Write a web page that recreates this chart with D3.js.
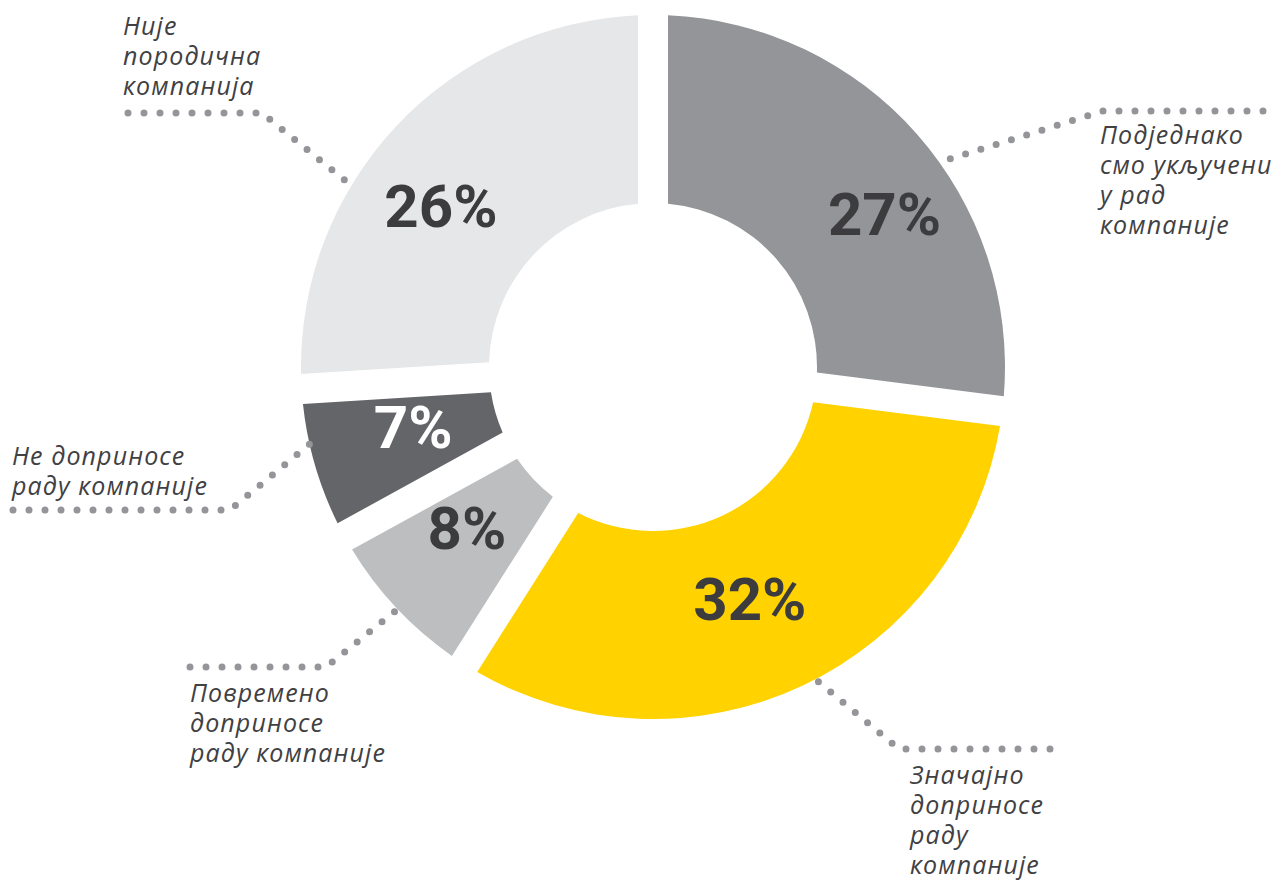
<!DOCTYPE html>
<html>
<head>
<meta charset="utf-8">
<script src="https://cdn.jsdelivr.net/npm/d3@7"></script>
<style>
  body { margin: 0; background: #fff; }
  svg { display: block; }
</style>
</head>
<body>
<div id="chart"></div>
<script>
var w = 1279, h = 882;

// slices, clockwise from 12 o'clock
var categories = [
    ["Подједнако", "смо укључени", "у рад", "компаније"],
    ["Значајно", "доприносе", "раду", "компаније"],
    ["Повремено", "доприносе", "раду компаније"],
    ["Не доприносе", "раду компаније"],
    ["Није", "породична", "компанија"]
];
var values = [27, 32, 8, 7, 26];
var colors = ["#939598", "#ffd200", "#bcbec0", "#646568", "#e6e7e8"];
var pctColors = ["#3c3c3e", "#3c3c3e", "#3c3c3e", "#ffffff", "#3c3c3e"];

// annotation layout
var pctNudge = [[38, 18], [-13, -1], [2, -16], [8, -12], [-24, 16]];
var leaderFrac = [0.56, 0.48, 0.49, 0.64, 0.37];
var elbows = [[1103, 111], [899, 749], [326, 667], [230, 510], [262, 113]];
var lineEnds = [1263, 1050, 190, 13, 128];
var textAt = [[1100, 144], [910, 784], [190, 702], [12, 465], [123, 35]];
var lineGap = 30;

var cx = 653, cy = 367, rOut = 352, rIn = 164, gap = 30;

var svg = d3.select("#chart").append("svg").attr("width", w).attr("height", h);

var pie = d3.pie().sort(null).value(function (d) { return d; });
var arcs = pie(values);

var arc = d3.arc()
    .innerRadius(rIn)
    .outerRadius(rOut)
    .padRadius(rOut)
    .padAngle(2 * Math.asin(gap / 2 / rOut));

var g = svg.append("g").attr("transform", "translate(" + cx + "," + cy + ")");

g.selectAll("path.slice").data(arcs).enter().append("path")
    .attr("class", "slice")
    .attr("fill", function (d, i) { return colors[i]; })
    .attr("d", arc);

// leader lines (dotted)
var line = d3.line();
svg.selectAll("path.leader").data(arcs).enter().append("path")
    .attr("class", "leader")
    .attr("fill", "none")
    .attr("stroke", "#939598")
    .attr("stroke-width", 7)
    .attr("stroke-linecap", "round")
    .attr("stroke-dasharray", "0 16")
    .attr("d", function (d, i) {
        var a = d.startAngle + leaderFrac[i] * (d.endAngle - d.startAngle);
        var sx = cx + rOut * Math.sin(a), sy = cy - rOut * Math.cos(a);
        var e = elbows[i];
        return line([[lineEnds[i], e[1]], e, [sx, sy]]);
    });

// percentages
g.selectAll("text.pct").data(arcs).enter().append("text")
    .attr("class", "pct")
    .attr("text-anchor", "middle")
    .attr("font-family", "Roboto, sans-serif")
    .attr("font-weight", "bold")
    .attr("font-size", "60px")
    .attr("fill", function (d, i) { return pctColors[i]; })
    .attr("x", function (d, i) { return arc.centroid(d)[0] + pctNudge[i][0]; })
    .attr("y", function (d, i) { return arc.centroid(d)[1] + pctNudge[i][1] + 21; })
    .text(function (d) { return d.data + "%"; });

// category labels
categories.forEach(function (lines, i) {
    var t = svg.append("text")
        .attr("font-family", "'Open Sans', sans-serif")
        .attr("font-style", "italic")
        .attr("font-size", "25px")
        .attr("letter-spacing", "1.1px")
        .attr("fill", "#414042")
        .attr("x", textAt[i][0])
        .attr("y", textAt[i][1]);
    lines.forEach(function (s, j) {
        t.append("tspan").attr("x", textAt[i][0]).attr("dy", j == 0 ? 0 : lineGap).text(s);
    });
});
</script>
</body>
</html>
